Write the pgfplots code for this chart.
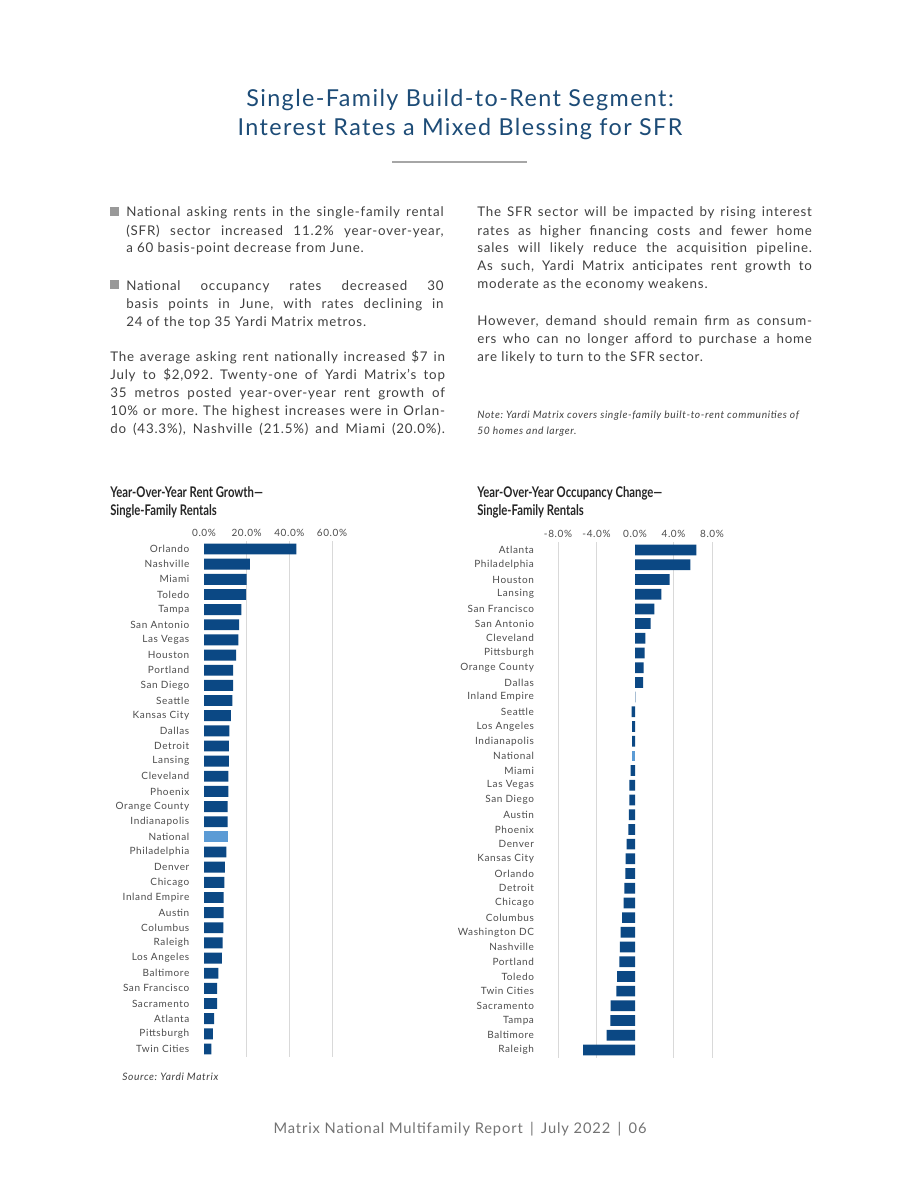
\documentclass[border=0pt]{standalone}
\usepackage{pgfplots}
\pgfplotsset{compat=1.18}
\usepackage{fontspec}
\setmainfont{Lato}[LetterSpace=6]
\newfontfamily\condfont{Lato}[FakeStretch=0.77]
\frenchspacing

\definecolor{barblue}{HTML}{0B4884}
\definecolor{natblue}{HTML}{5B9BD5}
\definecolor{titleblue}{HTML}{1D4C77}
\definecolor{bodygray}{HTML}{404040}
\definecolor{labgray}{HTML}{4D4D4D}
\definecolor{gridgray}{HTML}{D9D9D9}

% one justified line / one natural line
\newcommand\jl[1]{\hbox to \hsize{#1}}
\newcommand\nl[1]{\hbox{#1}}
\newcommand\para[2]{\vtop{\hsize=#1\relax #2}}

\pgfplotsset{
  sfr/.style={
    scale only axis, xbar, bar shift=0pt,
    y dir=reverse,
    axis line style={draw=none},
    tick style={draw=none}, major tick length=0pt,
    xmajorgrids, grid style={gridgray, line width=0.75pt},
    xticklabel pos=upper,
    tick label style={font=\fontsize{7.5}{9}\selectfont, text=labgray},
    extra x tick style={grid=none},
  },
}

\begin{document}
\begin{tikzpicture}[x=0.75pt,y=-0.75pt]
\fill[white] (0,0) rectangle (920,1191);

% heading
\node[anchor=base, font=\fontsize{17.5}{21}\selectfont, text=titleblue] at (460,107) {Single-Family Build-to-Rent Segment:};
\node[anchor=base, font=\fontsize{17.5}{21}\selectfont, text=titleblue] at (460,136) {Interest Rates a Mixed Blessing for SFR};
\draw[gray!70, line width=1pt] (392,162) -- (527,162);

% left column
\fill[gray!80] (110,207) rectangle (119,216);
\fill[gray!80] (110,280) rectangle (119,289);
\node[anchor=base west, inner sep=0pt, font=\fontsize{10}{13.5}\selectfont, text=bodygray] at (126,217)
  {\para{238pt}{\jl{National asking rents in the single-family rental}
   \jl{(SFR) sector increased 11.2\% year-over-year,}
   \nl{a 60 basis-point decrease from June.}}};
\node[anchor=base west, inner sep=0pt, font=\fontsize{10}{13.5}\selectfont, text=bodygray] at (126,290)
  {\para{238pt}{\jl{National occupancy rates decreased 30}
   \jl{basis points in June, with rates declining in}
   \nl{24 of the top 35 Yardi Matrix metros.}}};
\node[anchor=base west, inner sep=0pt, font=\fontsize{10}{13.5}\selectfont, text=bodygray] at (110,361)
  {\para{251pt}{\jl{The average asking rent nationally increased \$7 in}
   \jl{July to \$2,092. Twenty-one of Yardi Matrix's top}
   \jl{35 metros posted year-over-year rent growth of}
   \jl{10\% or more. The highest increases were in Orlan-}
   \jl{do (43.3\%), Nashville (21.5\%) and Miami (20.0\%).}}};

% right column
\node[anchor=base west, inner sep=0pt, font=\fontsize{10}{13.5}\selectfont, text=bodygray] at (477,217)
  {\para{251pt}{\jl{The SFR sector will be impacted by rising interest}
   \jl{rates as higher financing costs and fewer home}
   \jl{sales will likely reduce the acquisition pipeline.}
   \jl{As such, Yardi Matrix anticipates rent growth to}
   \nl{moderate as the economy weakens.}}};
\node[anchor=base west, inner sep=0pt, font=\fontsize{10}{13.5}\selectfont, text=bodygray] at (477,325)
  {\para{251pt}{\jl{However, demand should remain firm as consum-}
   \jl{ers who can no longer afford to purchase a home}
   \nl{are likely to turn to the SFR sector.}}};
\node[anchor=base west, inner sep=0pt, font=\fontsize{7.7}{12}\selectfont\itshape, text=bodygray] at (477,418)
  {\para{251pt}{\nl{Note: Yardi Matrix covers single-family built-to-rent communities of}
   \nl{50 homes and larger.}}};

% chart titles
\node[anchor=base west, inner sep=0pt, font=\fontsize{11}{13}\condfont\bfseries, text=black!85] at (110,497) {Year-Over-Year Rent Growth—};
\node[anchor=base west, inner sep=0pt, font=\fontsize{11}{13}\condfont\bfseries, text=black!85] at (110,515) {Single-Family Rentals};
\node[anchor=base west, inner sep=0pt, font=\fontsize{11}{13}\condfont\bfseries, text=black!85] at (477,497) {Year-Over-Year Occupancy Change—};
\node[anchor=base west, inner sep=0pt, font=\fontsize{11}{13}\condfont\bfseries, text=black!85] at (477,515) {Single-Family Rentals};

% left chart
\coordinate (LA) at (204,541);
\begin{axis}[sfr, at={(LA)}, anchor=north west,
  width=96pt, height=387pt,
  xmin=0, xmax=60, ymin=-0.53, ymax=33.53,
  bar width=0.72,
  xtick={20,40,60}, xticklabels={20.0\%,40.0\%,60.0\%},
  extra x ticks={0}, extra x tick labels={0.0\%},
  ytick={0,...,33},
  yticklabels={Orlando,Nashville,Miami,Toledo,Tampa,San Antonio,Las Vegas,Houston,Portland,San Diego,Seattle,Kansas City,Dallas,Detroit,Lansing,Cleveland,Phoenix,Orange County,Indianapolis,National,Philadelphia,Denver,Chicago,Inland Empire,Austin,Columbus,Raleigh,Los Angeles,Baltimore,San Francisco,Sacramento,Atlanta,Pittsburgh,Twin Cities},
  yticklabel style={xshift=-7.5pt},
]
\addplot[fill=barblue, draw=none] coordinates {
(43.3,0) (21.5,1) (20.0,2) (19.8,3) (17.5,4) (16.5,5) (16.1,6) (15.0,7) (13.7,8) (13.6,9)
(13.3,10) (12.6,11) (11.9,12) (11.7,13) (11.7,14) (11.4,15) (11.4,16) (11.1,17) (11.1,18)
(10.5,20) (9.8,21) (9.5,22) (9.2,23) (9.2,24) (9.1,25) (8.7,26) (8.4,27) (6.7,28) (6.2,29)
(6.2,30) (4.8,31) (4.2,32) (3.4,33)};
\addplot[fill=natblue, draw=none] coordinates {(11.2,19)};
\end{axis}

% right chart
\coordinate (RA) at (558,542);
\begin{axis}[sfr, at={(RA)}, anchor=north west,
  width=115.5pt, height=387pt,
  xmin=-8, xmax=8, ymin=-0.55, ymax=34.55,
  bar width=0.73,
  xtick={-8,-4,4,8}, xticklabels={-8.0\%,-4.0\%,4.0\%,8.0\%},
  extra x ticks={0}, extra x tick labels={0.0\%},
  ytick={0,...,34},
  yticklabels={Atlanta,Philadelphia,Houston,Lansing,San Francisco,San Antonio,Cleveland,Pittsburgh,Orange County,Dallas,Inland Empire,Seattle,Los Angeles,Indianapolis,National,Miami,Las Vegas,San Diego,Austin,Phoenix,Denver,Kansas City,Orlando,Detroit,Chicago,Columbus,Washington DC,Nashville,Portland,Toledo,Twin Cities,Sacramento,Tampa,Baltimore,Raleigh},
  yticklabel style={xshift=-14.5pt},
]
\addplot[fill=barblue, draw=none] coordinates {
(6.37,0) (5.75,1) (3.6,2) (2.73,3) (2.0,4) (1.63,5) (1.07,6) (1.0,7) (0.9,8) (0.85,9)
(0.05,10) (-0.35,11) (-0.3,12) (-0.3,13) (-0.45,15) (-0.58,16) (-0.58,17) (-0.65,18)
(-0.69,19) (-0.87,20) (-0.97,21) (-1.0,22) (-1.1,23) (-1.18,24) (-1.35,25) (-1.49,26)
(-1.56,27) (-1.62,28) (-1.87,29) (-1.94,30) (-2.53,31) (-2.56,32) (-2.94,33) (-5.4,34)};
\addplot[fill=natblue, draw=none] coordinates {(-0.28,14)};
\end{axis}

% source and footer
\node[anchor=base west, inner sep=0pt, font=\fontsize{7.7}{9}\selectfont\itshape, text=bodygray] at (122,1080) {Source: Yardi Matrix};
\node[anchor=base, inner sep=0pt, font=\fontsize{11}{13}\selectfont, text=black!55] at (460,1133) {Matrix National Multifamily Report\enspace|\enspace July 2022\enspace|\enspace 06};
\end{tikzpicture}
\end{document}
